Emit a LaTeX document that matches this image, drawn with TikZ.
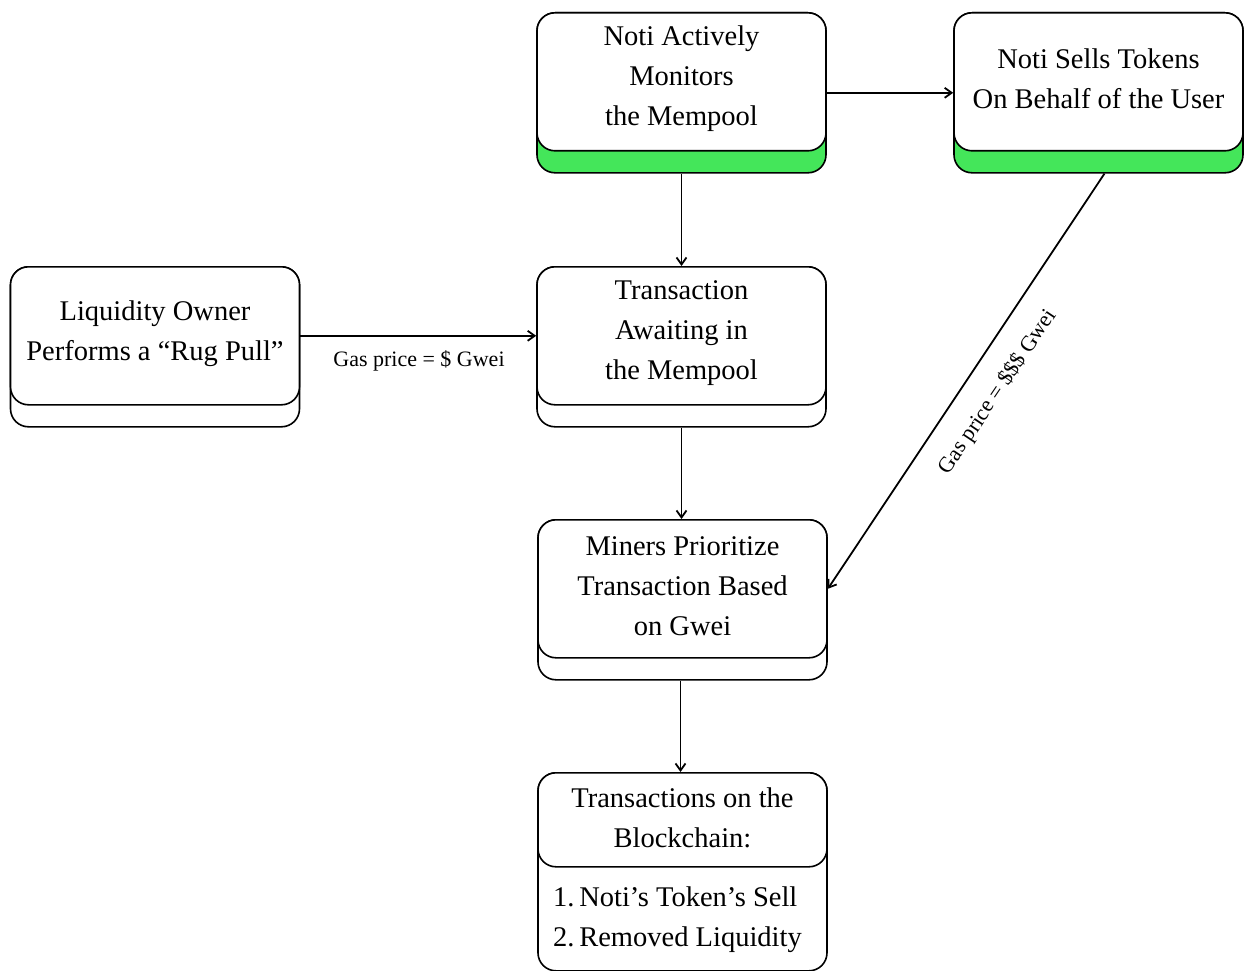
\documentclass[tikz,border=0pt]{standalone}
\usepackage{fontspec}
\setmainfont{Liberation Serif}
\usetikzlibrary{arrows.meta}
\definecolor{ngreen}{RGB}{68,230,90}
\newcommand{\boxfont}{\fontsize{28.5}{40}\selectfont}
\newcommand{\lblfont}{\fontsize{22}{26}\selectfont}
\tikzset{
  base/.style={draw=black, line width=1.6pt, rounded corners=18pt, minimum width=289pt, inner sep=0pt, anchor=north},
  outerG/.style={base, fill=ngreen, minimum height=160pt},
  outerW/.style={base, fill=white, minimum height=160pt},
  innerbox/.style={base, fill=white, minimum height=138pt},
  txt/.style={align=center, font=\boxfont, inner sep=0pt},
  lbl/.style={font=\lblfont, inner sep=0pt},
  arr/.style={-{Straight Barb[length=7pt,width=10pt]}, line width=1.8pt}
}
\begin{document}
\begin{tikzpicture}[x=1pt,y=-1pt]
\useasboundingbox (0,0) rectangle (1245,971);
% Noti Actively Monitors
\node[outerG] (monB) at (681.5,12) {};
\node[innerbox] (mon) at (681.5,12) {};
\node[txt] (monT) at (681.5,79) {Noti Actively\\Monitors\\the Mempool};
% Noti Sells
\node[outerG] (selB) at (1098.5,12) {};
\node[innerbox] (sel) at (1098.5,12) {};
\node[txt] (selT) at (1098.5,79) {Noti Sells Tokens\\On Behalf of the User};
% Liquidity
\node[outerW] (liqB) at (155,266) {};
\node[innerbox] (liq) at (155,266) {};
\node[txt] (liqT) at (155,334) {Liquidity Owner\\Performs a \char"201CRug Pull\char"201D};
% Awaiting
\node[outerW] (awB) at (681.5,266) {};
\node[innerbox] (aw) at (681.5,266) {};
\node[txt] (awT) at (681.5,333) {Transaction\\Awaiting in\\the Mempool};
% Miners
\node[outerW] (minB) at (682.5,519) {};
\node[innerbox] (min) at (682.5,519) {};
\node[txt] (minT) at (682.5,586) {Miners Prioritize\\Transaction Based\\on Gwei};
% Blockchain
\node[base, fill=white, minimum height=198pt] (bcB) at (682.5,772) {};
\node[base, fill=white, minimum height=94pt] (bc) at (682.5,772) {};
\node[txt] (bcT) at (682.5,818) {Transactions on the\\Blockchain:};
\node[txt, align=left, anchor=west] (bcL) at (553,920) {1.\,Noti\char"2019s Token\char"2019s Sell\\2.\,Removed Liquidity};
% arrows
\draw[arr] (monB.south) -- (aw.north);
\draw[arr] (monB.east) -- (selB.west);
\draw[arr] (liq.east) -- (aw.west);
\node[lbl] (l1) at (419,361) {Gas price = \$ Gwei};
\draw[arr] (awB.south) -- (aw.south |- min.north);
\draw[arr] ([xshift=-2pt]minB.south) -- ([xshift=-2pt]bc.north);
\draw[arr] ([xshift=6pt]selB.south) -- (min.east);
\node[lbl, rotate=56] (l2) at (998,392) {Gas price = \$\$\$ Gwei};
\end{tikzpicture}
\end{document}
